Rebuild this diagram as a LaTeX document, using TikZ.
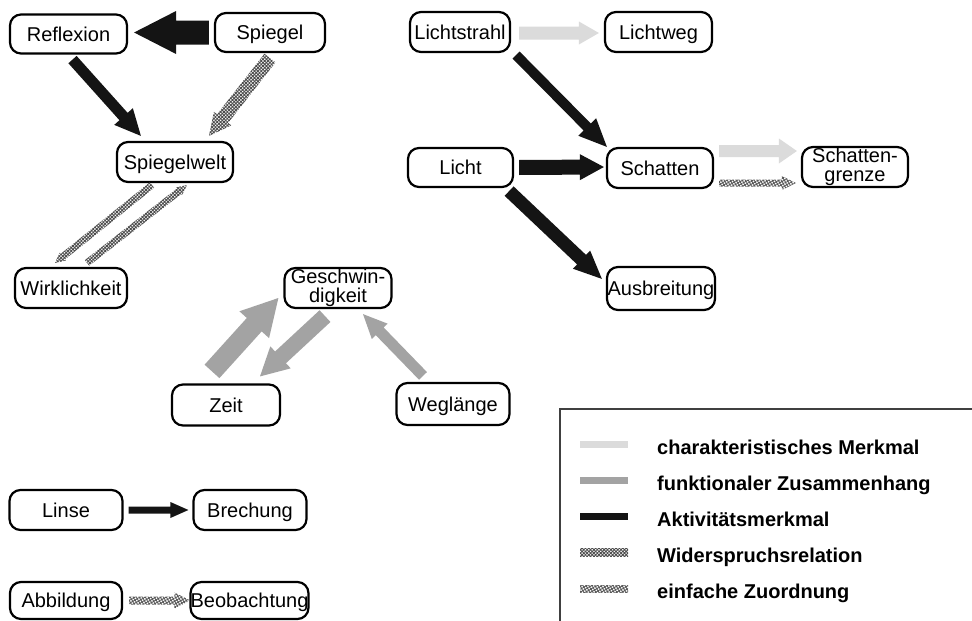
\documentclass[tikz,border=0pt]{standalone}
\usepackage{fontspec}
\setmainfont{Liberation Sans}
\usepackage{tikz}
\usetikzlibrary{calc,patterns.meta}

% block arrow: style, start, end, shaft width, head width, head length
\newcommand{\blockarrow}[6]{%
  \path (#2) coordinate (ba-s) (#3) coordinate (ba-e);
  \path ($(ba-e)!#6pt!(ba-s)$) coordinate (ba-b);
  \fill[#1] ($(ba-s)!0.5*#4pt!90:(ba-e)$) -- ($(ba-b)!0.5*#4pt!90:(ba-e)$)
    -- ($(ba-b)!0.5*#5pt!90:(ba-e)$) -- (ba-e)
    -- ($(ba-b)!0.5*#5pt!-90:(ba-e)$) -- ($(ba-b)!0.5*#4pt!-90:(ba-e)$)
    -- ($(ba-s)!0.5*#4pt!-90:(ba-e)$) -- cycle;
}

\begin{document}
\begin{tikzpicture}[x=1pt,y=-1pt,
    frame/.style={draw, line width=2.2pt, rounded corners=11pt, inner sep=0pt,
      font=\fontsize{20}{19.5}\selectfont},
    box/.style={frame, minimum height=39pt, text height=14pt, text depth=0pt},
    box2/.style={frame, align=center, minimum height=40pt},
    akt/.style={fill=black!92},
    char/.style={fill=black!14},
    fkt/.style={fill=black!36},
    wid/.style={pattern={Hatch[angle=45,distance=2.4pt,line width=0.9pt]}, pattern color=black!70},
    zuo/.style={pattern={Hatch[angle=30,distance=2.6pt,line width=0.9pt]}, pattern color=black!65},
    legtext/.style={anchor=base west, inner sep=0pt, font=\bfseries\fontsize{20}{22}\selectfont}]
  \fill[white] (0,0) rectangle (972,621);
  \useasboundingbox (0,0) rectangle (972,621);

  % mirror
  \node[box, minimum width=117] (reflexion) at (68.5,34) {Reflexion};
  \node[box, minimum width=110] (spiegel) at (270,32.5) {Spiegel};
  \node[box, minimum width=116, minimum height=40] (spiegelwelt) at (175,162) {Spiegelwelt};
  \node[box, minimum width=112, minimum height=40] (wirklichkeit) at (71,288) {Wirklichkeit};

  % light and shadow
  \node[box, minimum width=100, minimum height=40] (lichtstrahl) at (460,32) {Lichtstrahl};
  \node[box, minimum width=107, minimum height=40] (lichtweg) at (658.5,32) {Lichtweg};
  \node[box, minimum width=105] (licht) at (460.5,167.5) {Licht};
  \node[box, minimum width=106, minimum height=40] (schatten) at (660,168) {Schatten};
  \node[box2, minimum width=106] (grenze) at (855,167) {Schatten-\\grenze};
  \node[box, minimum width=108, minimum height=43] (ausbreitung) at (661,288.5) {Ausbreitung};

  % speed
  \node[box2, minimum width=107] (geschw) at (338,288) {Geschwin-\\digkeit};
  \node[box, minimum width=108, minimum height=41] (zeit) at (226,405) {Zeit};
  \node[box, minimum width=113, minimum height=42] (weglaenge) at (453,404) {Weglänge};

  % lens
  \node[box, minimum width=113, minimum height=40] (linse) at (66,510) {Linse};
  \node[box, minimum width=113, minimum height=40] (brechung) at (250,510) {Brechung};
  \node[box, minimum width=112, minimum height=37] (abbildung) at (66,600.5) {Abbildung};
  \node[box, minimum width=113, minimum height=37] (beobachtung) at (249.5,600.5) {Beobachtung};

  % arrows
  \blockarrow{akt}{$(spiegel.west)+(-5,0)$}{$(reflexion.east)+(6,-1.5)$}{24}{43}{42}
  \blockarrow{akt}{$(reflexion.south)+(4,5)$}{$(spiegelwelt.north west)+(25,-5)$}{11}{25}{26}
  \blockarrow{wid}{$(spiegel.south)+(0,5)$}{$(spiegelwelt.north)+(34,-5)$}{14}{22}{22}
  \blockarrow{wid}{$(spiegelwelt.south)+(-23,2)$}{$(wirklichkeit.north)+(-16,-4)$}{7}{10}{10}
  \blockarrow{wid}{$(wirklichkeit.north)+(16,-4)$}{$(spiegelwelt.south)+(12,2)$}{7}{10}{10}

  \blockarrow{char}{$(lichtstrahl.east)+(8,1)$}{$(lichtweg.west)+(-5,1)$}{13}{23}{20}
  \blockarrow{akt}{$(lichtstrahl.south east)+(5,2)$}{$(schatten.north west)+(1,0)$}{10}{25}{28}
  \blockarrow{akt}{$(licht.east)+(5,0)$}{$(schatten.west)+(-2,-1)$}{15}{26}{24}
  \blockarrow{akt}{$(licht.south east)+(-5,3)$}{$(ausbreitung.north west)+(-4,13)$}{13}{25}{28}
  \blockarrow{char}{$(schatten.east)+(5,-17)$}{$(grenze.west)+(-4,-16)$}{12}{25}{18}
  \blockarrow{zuo}{$(schatten.east)+(5,15)$}{$(grenze.west)+(-5,16)$}{7}{14}{14}

  \blockarrow{fkt}{$(zeit.north)+(-14,-12)$}{$(geschw.west)+(-5,10)$}{20}{40}{36}
  \blockarrow{fkt}{$(geschw.south)+(-13,7)$}{$(zeit.north)+(34,-7)$}{16}{30}{28}
  \blockarrow{fkt}{$(weglaenge.north)+(-30,-6)$}{$(geschw.south)+(25,5)$}{11}{22}{24}

  \blockarrow{akt}{$(linse.east)+(5,0)$}{$(brechung.west)+(-4,0)$}{7}{16}{18}
  \blockarrow{zuo}{$(abbildung.east)+(6,0)$}{$(beobachtung.west)+(1,0)$}{8}{16}{16}

  % legend
  \draw[line width=1.5pt, black!75] (560,630) |- (980,409);
  \node[legtext] (lg1) at (657,454) {charakteristisches Merkmal};
  \node[legtext] (lg2) at (657,490) {funktionaler Zusammenhang};
  \node[legtext] (lg3) at (657,526) {Aktivitätsmerkmal};
  \node[legtext] (lg4) at (657,562) {Widerspruchsrelation};
  \node[legtext] (lg5) at (657,598) {einfache Zuordnung};
  \fill[char] ($(lg1.base west)+(-77,-13.5)$) rectangle ++(48,7);
  \fill[fkt] ($(lg2.base west)+(-77,-13.5)$) rectangle ++(48,7);
  \fill[akt] ($(lg3.base west)+(-77,-13.5)$) rectangle ++(48,7);
  \fill[wid] ($(lg4.base west)+(-77,-14)$) rectangle ++(48,8);
  \fill[zuo] ($(lg5.base west)+(-77,-13)$) rectangle ++(48,7);
\end{tikzpicture}
\end{document}
